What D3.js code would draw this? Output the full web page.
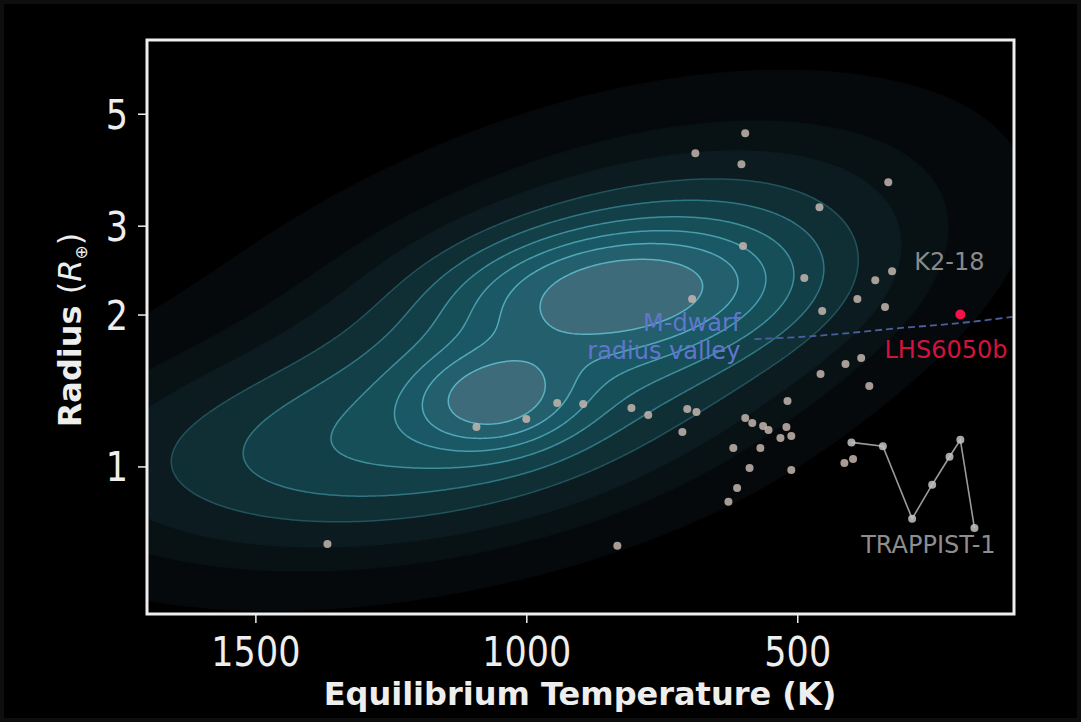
<!DOCTYPE html>
<html>
<head>
<meta charset="utf-8">
<script src="https://cdn.jsdelivr.net/npm/d3@7"></script>
<style>
  html, body { margin: 0; padding: 0; background: #000; }
  svg { display: block; font-family: "DejaVu Sans", sans-serif; }
</style>
</head>
<body>
<div id="chart"></div>
<script>
// axis setup
var tempDomain = [1700, 100];
var radiusDomain = [0.51, 7.0];
var tempTicks = [1500, 1000, 500];
var radiusTicks = [1, 2, 3, 5];

// known planets around M dwarfs (Teq in K, radius in Earth radii)
var planetTemp = [1367, 832, 1092, 1000, 943, 895, 806, 775, 712, 703, 686, 694, 600, 487,
  688, 596, 603, 459, 332, 454, 389, 356, 325, 338, 382, 411, 457, 367, 518, 596, 583,
  563, 553, 520, 511, 531, 618, 568, 588, 511, 611, 627, 413, 397];
var planetRadius = [0.702, 0.696, 1.197, 1.242, 1.336, 1.330, 1.306, 1.265, 1.170, 1.300,
  1.282, 2.146, 2.733, 2.362, 4.176, 4.575, 3.972, 3.265, 3.659, 2.032, 2.146, 2.340,
  2.438, 2.069, 1.640, 1.596, 1.525, 1.443, 1.348, 1.247, 1.219, 1.203, 1.181, 1.197,
  1.149, 1.139, 1.088, 1.088, 0.993, 0.984, 0.906, 0.851, 1.016, 1.035];

// TRAPPIST-1 b..h
var trappistTemp = [400, 342, 288, 251, 219, 199, 173];
var trappistRadius = [1.116, 1.097, 0.788, 0.920, 1.045, 1.129, 0.755];

// highlighted planet
var targetTemp = [199];
var targetRadius = [2.0];

// M-dwarf radius valley
var valleyTemp = [579, 496, 404, 312, 219, 103];
var valleyRadius = [1.788, 1.805, 1.838, 1.880, 1.915, 1.978];

// smooth density of the wider planet population (gaussian components in Teq / log R)
var kdeTemp = [825, 1058, 890, 1363, 1050, 740];
var kdeRadius = [2.236, 1.366, 1.8, 1.06, 1.9, 2.4];
var kdeSdTemp = [185, 95, 370, 369, 520, 250];
var kdeSdLogR = [0.08, 0.062, 0.215, 0.13, 0.33, 0.16];
var kdeRho = [-0.15, -0.1, -0.55, -0.2, -0.5, -0.3];
var kdeAmp = [0.56, 0.54, 0.4, 0.26, 0.12, 0.15];
var kdeLevels = [0.05, 0.11, 0.17, 0.25, 0.34, 0.44, 0.55, 0.67, 0.82];

var width = 1081, height = 722;
var margin = { top: 40, right: 67, bottom: 108, left: 147 };
var plotW = width - margin.left - margin.right;
var plotH = height - margin.top - margin.bottom;

var svg = d3.select("#chart").append("svg")
  .attr("width", width)
  .attr("height", height);

svg.append("rect")
  .attr("width", width).attr("height", height)
  .attr("fill", "#000")
  .attr("stroke", "#0e0e0e")
  .attr("stroke-width", 8);

var x = d3.scaleLinear().domain(tempDomain).range([margin.left, margin.left + plotW]);
var y = d3.scaleLog().domain(radiusDomain).range([margin.top + plotH, margin.top]);

svg.append("clipPath").attr("id", "plotClip")
  .append("rect")
  .attr("x", margin.left).attr("y", margin.top)
  .attr("width", plotW).attr("height", plotH);

var plot = svg.append("g").attr("clip-path", "url(#plotClip)");

// density grid in pixel space
function density(t, v) {
  var s = 0;
  for (var k = 0; k < kdeTemp.length; k++) {
    var a = (t - kdeTemp[k]) / kdeSdTemp[k];
    var b = (v - Math.log10(kdeRadius[k])) / kdeSdLogR[k];
    var r = kdeRho[k];
    var q = (a * a - 2 * r * a * b + b * b) / (1 - r * r);
    s += kdeAmp[k] * Math.exp(-0.5 * q);
  }
  return s;
}

var step = 3, pad = 12;
var x0 = margin.left - pad, y0 = margin.top - pad;
var nx = Math.ceil((plotW + 2 * pad) / step) + 1;
var ny = Math.ceil((plotH + 2 * pad) / step) + 1;
var grid = new Array(nx * ny);
var gmax = 0;
for (var j = 0; j < ny; j++) {
  for (var i = 0; i < nx; i++) {
    var val = density(x.invert(x0 + i * step), Math.log10(y.invert(y0 + j * step)));
    grid[j * nx + i] = val;
    if (val > gmax) gmax = val;
  }
}

var contours = d3.contours()
  .size([nx, ny])
  .thresholds(kdeLevels.map(function (l) { return l * gmax; }))(grid);

var fillColors = ["#06090b", "#081114", "#0b1b20", "#0f2f35", "#134048", "#174f59",
  "#1b5865", "#235f6d", "#3e6b7a"];
var lineColors = ["#06090b", "#081114", "#0b1b20", "#22525b", "#2f7682", "#3e8e9c",
  "#489cac", "#52a9ba", "#5ab2c3"];

var geo = d3.geoPath(d3.geoIdentity().scale(step).translate([x0 - step / 2, y0 - step / 2]));

plot.selectAll(".level")
  .data(contours)
  .enter().append("path")
  .attr("class", "level")
  .attr("d", geo)
  .attr("fill", function (d, i) { return fillColors[i]; })
  .attr("stroke", function (d, i) { return lineColors[i]; })
  .attr("stroke-width", 1.5);

// radius valley
var valley = d3.range(valleyTemp.length).map(function (i) { return [valleyTemp[i], valleyRadius[i]]; });
plot.append("path")
  .datum(valley)
  .attr("d", d3.line().curve(d3.curveMonotoneX)
    .x(function (d) { return x(d[0]); })
    .y(function (d) { return y(d[1]); }))
  .attr("fill", "none")
  .attr("stroke", "#4b5f9e")
  .attr("stroke-width", 1.8)
  .attr("stroke-dasharray", "7,4");

// planets
plot.selectAll(".dot")
  .data(d3.range(planetTemp.length))
  .enter().append("circle")
  .attr("class", "dot")
  .attr("r", 4)
  .attr("cx", function (i) { return x(planetTemp[i]); })
  .attr("cy", function (i) { return y(planetRadius[i]); })
  .attr("fill", "#c4b6ae")
  .attr("opacity", 0.85);

var trappist = d3.range(trappistTemp.length).map(function (i) { return [trappistTemp[i], trappistRadius[i]]; });
plot.append("path")
  .datum(trappist)
  .attr("d", d3.line()
    .x(function (d) { return x(d[0]); })
    .y(function (d) { return y(d[1]); }))
  .attr("fill", "none")
  .attr("stroke", "#9a9a9a")
  .attr("stroke-width", 1.6);

plot.selectAll(".tdot")
  .data(trappist)
  .enter().append("circle")
  .attr("class", "tdot")
  .attr("r", 4)
  .attr("cx", function (d) { return x(d[0]); })
  .attr("cy", function (d) { return y(d[1]); })
  .attr("fill", "#c4c4c4")
  .attr("opacity", 0.85);

plot.selectAll(".target")
  .data(d3.range(targetTemp.length))
  .enter().append("circle")
  .attr("class", "target")
  .attr("r", 5)
  .attr("cx", function (i) { return x(targetTemp[i]); })
  .attr("cy", function (i) { return y(targetRadius[i]); })
  .attr("fill", "#f0144a");

// labels
function label(t, r, text, color, anchor) {
  svg.append("text")
    .attr("x", x(t)).attr("y", y(r))
    .attr("fill", color)
    .attr("font-size", 24)
    .attr("text-anchor", anchor || "start")
    .text(text);
}
label(284, 2.45, "K2-18", "#8a8a8a");
label(339, 1.64, "LHS6050b", "#d3123e");
label(382, 0.674, "TRAPPIST-1", "#8e8e8e");
label(605, 1.855, "M-dwarf", "#6076cc", "end");
label(605, 1.633, "radius valley", "#6076cc", "end");

// frame
svg.append("rect")
  .attr("x", margin.left).attr("y", margin.top)
  .attr("width", plotW).attr("height", plotH)
  .attr("fill", "none")
  .attr("stroke", "#eeeeee")
  .attr("stroke-width", 3);

// axes
var xAxis = d3.axisBottom(x).tickValues(tempTicks).tickFormat(d3.format("d")).tickSize(9).tickPadding(8);
var yAxis = d3.axisLeft(y).tickValues(radiusTicks).tickFormat(d3.format("d")).tickSize(9).tickPadding(8);

var gX = svg.append("g")
  .attr("transform", "translate(0," + (margin.top + plotH) + ")")
  .call(xAxis);
var gY = svg.append("g")
  .attr("transform", "translate(" + margin.left + ",0)")
  .call(yAxis);

[gX, gY].forEach(function (g) {
  g.select(".domain").remove();
  g.selectAll(".tick line").attr("stroke", "#eeeeee").attr("stroke-width", 1.5);
  g.selectAll(".tick text")
    .attr("fill", "#eeeeee")
    .attr("font-size", 35)
    .attr("font-family", "DejaVu Sans, sans-serif");
});
gX.selectAll(".tick text")
  .attr("dy", 0)
  .attr("y", 52 / 1.15)
  .attr("transform", "scale(1,1.15)");
gY.selectAll(".tick text")
  .attr("x", -19)
  .attr("dy", "0.36em")
  .attr("transform", "scale(1,1.15)");

svg.append("text")
  .attr("x", 580).attr("y", 705)
  .attr("text-anchor", "middle")
  .attr("fill", "#eeeeee")
  .attr("font-size", 32)
  .attr("font-weight", "bold")
  .text("Equilibrium Temperature (K)");

var yl = svg.append("text")
  .attr("transform", "translate(81,330) rotate(-90)")
  .attr("text-anchor", "middle")
  .attr("fill", "#eeeeee")
  .attr("font-size", 32);
yl.append("tspan").attr("font-weight", "bold").text("Radius ");
yl.append("tspan").text("(");
yl.append("tspan").attr("font-style", "italic").text("R");
yl.append("tspan").attr("font-size", 17).attr("dy", 6).text("⊕");
yl.append("tspan").attr("dy", -6).text(")");
</script>
</body>
</html>
